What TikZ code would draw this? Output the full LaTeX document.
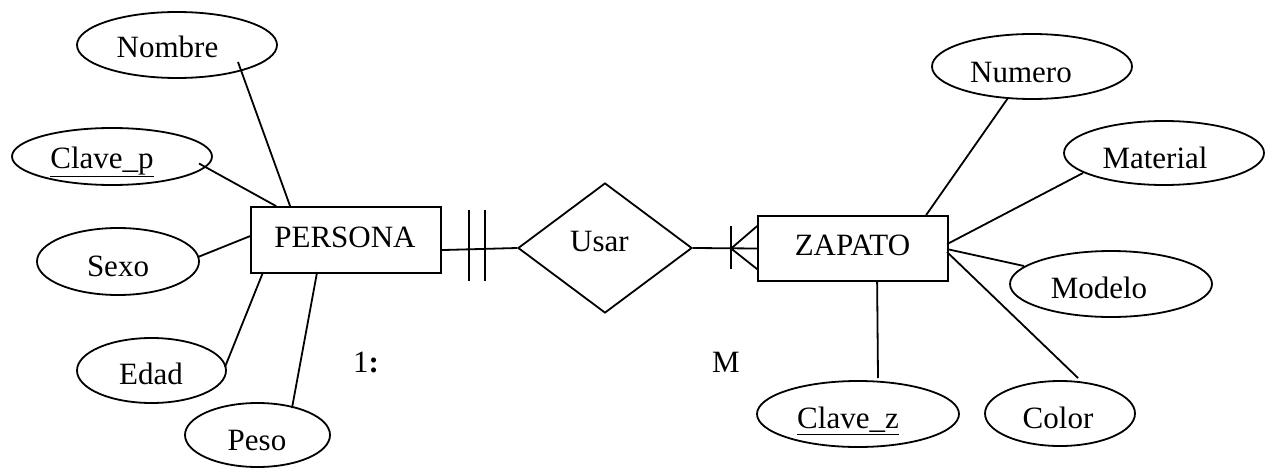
\documentclass[tikz,border=0pt]{standalone}
\usepackage{fontspec}
\setmainfont{Liberation Serif}
\usetikzlibrary{shapes.geometric}
\tikzset{
  attr/.style={draw, ellipse, inner sep=0pt, line width=1.8pt},
  entity/.style={draw, rectangle, inner sep=0pt, line width=1.8pt},
  rel/.style={draw, diamond, inner sep=0pt, line width=1.8pt},
  txt/.style={inner sep=0pt, font=\fontsize{31}{37}\selectfont, text height=20.5pt, text depth=0pt, anchor=center},
  conn/.style={line width=1.8pt}
}
\begin{document}
\begin{tikzpicture}[x=1pt,y=-1pt]
\useasboundingbox (0,0) rectangle (1268,468);

% entities
\node[entity, minimum width=190pt, minimum height=66pt] (persona) at (346,240) {};
\node[entity, minimum width=190pt, minimum height=65pt] (zapato) at (853,248.5) {};
\node[rel, minimum width=174pt, minimum height=130pt] (usar) at (605,248) {};

% attributes
\node[attr, minimum width=200pt, minimum height=66pt] (nombre) at (177,45) {};
\node[attr, minimum width=200pt, minimum height=57pt] (clavep) at (112,156.5) {};
\node[attr, minimum width=162pt, minimum height=67pt] (sexo) at (118,261.5) {};
\node[attr, minimum width=149pt, minimum height=65pt] (edad) at (151.5,370.5) {};
\node[attr, minimum width=145pt, minimum height=64pt] (peso) at (257.5,435) {};
\node[attr, minimum width=200pt, minimum height=65pt] (numero) at (1032,66.5) {};
\node[attr, minimum width=200pt, minimum height=64pt] (material) at (1164,153) {};
\node[attr, minimum width=202pt, minimum height=66pt] (modelo) at (1111,284) {};
\node[attr, minimum width=202pt, minimum height=66pt] (clavez) at (858,414) {};
\node[attr, minimum width=150pt, minimum height=65pt] (color) at (1060,413.5) {};

% texts
\node[txt] (t-persona) at (345,237.5) {PERSONA};
\node[txt] (t-zapato) at (852.5,245.5) {ZAPATO};
\node[txt] (t-usar) at (599.5,241.5) {Usar};
\node[txt] (t-nombre) at (167.5,47.5) {Nombre};
\node[txt] (t-clavep) at (102,158) {\underline{Clave\_p}};
\node[txt] (t-sexo) at (118,266) {Sexo};
\node[txt] (t-edad) at (151,374.5) {Edad};
\node[txt] (t-peso) at (257,440) {Peso};
\node[txt] (t-numero) at (1021,72) {Numero};
\node[txt] (t-material) at (1155,158) {Material};
\node[txt] (t-modelo) at (1099,288) {Modelo};
\node[txt] (t-clavez) at (848,418.5) {\underline{Clave\_z}};
\node[txt] (t-color) at (1058,418) {Color};
\node[txt] (t-uno) at (366,362.5) {1\textbf{:}};
\node[txt] (t-m) at (726,362.5) {M};

% attribute connectors (PERSONA)
\draw[conn] ([shift={(61,17)}]nombre.center) -- ([shift={(40,0)}]persona.north west);
\draw[conn] ([shift={(87,7)}]clavep.center) -- ([shift={(26,0)}]persona.north west);
\draw[conn] ([shift={(80,-4.5)}]sexo.center) -- ([shift={(0,30)}]persona.north west);
\draw[conn] ([shift={(73.5,-3.5)}]edad.center) -- ([shift={(13,66)}]persona.north west);
\draw[conn] ([shift={(34.5,-27)}]peso.center) -- ([shift={(67,66)}]persona.north west);

% attribute connectors (ZAPATO)
\draw[conn] ([shift={(-24,31.5)}]numero.center) -- ([shift={(169,0)}]zapato.north west);
\draw[conn] ([shift={(-81,20)}]material.center) -- ([shift={(190,29)}]zapato.north west);
\draw[conn] ([shift={(-87,-18)}]modelo.center) -- ([shift={(190,34)}]zapato.north west);
\draw[conn] ([shift={(18,-35.5)}]color.center) -- ([shift={(190,37)}]zapato.north west);
\draw[conn] ([shift={(20,-36)}]clavez.center) -- ([shift={(120,65)}]zapato.north west);

% relationship connectors
\draw[conn] ([shift={(190,44)}]persona.north west) -- (usar.west);
\draw[conn] ([shift={(219,4)}]persona.north west) -- ([shift={(219,75)}]persona.north west);
\draw[conn] ([shift={(235,4)}]persona.north west) -- ([shift={(235,75)}]persona.north west);

\draw[conn] (usar.east) -- (zapato.west);
\draw[conn] ([shift={(-26,11)}]zapato.north west) -- ([shift={(-26,54)}]zapato.north west);
\draw[conn] ([shift={(-26,0)}]zapato.west) -- ([shift={(0,11)}]zapato.north west);
\draw[conn] ([shift={(-26,0)}]zapato.west) -- ([shift={(0,54)}]zapato.north west);
\end{tikzpicture}
\end{document}
